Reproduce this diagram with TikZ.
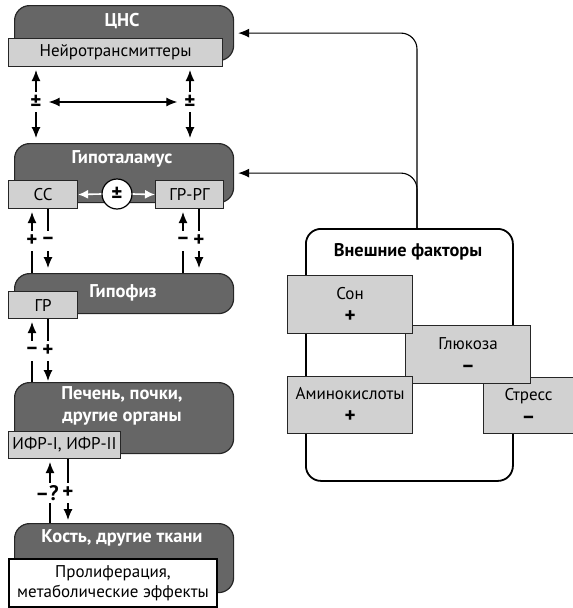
\documentclass[tikz,border=0pt]{standalone}
\usepackage{fontspec}
\setmainfont{PT Sans}
\usetikzlibrary{arrows.meta}
\newcommand{\bigsgn}[1]{{\fontsize{21}{22}\selectfont\bfseries #1}}
\begin{document}
\begin{tikzpicture}[x=1pt,y=-1pt,
  font=\fontsize{17}{20}\selectfont,
  darkbox/.style={draw=black!85, line width=1.2pt, fill=black!60, rounded corners=15pt, anchor=north west, inner sep=0pt},
  lightbox/.style={draw=black!85, line width=1.1pt, fill=black!18, anchor=north west, inner sep=0pt, align=center},
  factor/.style={lightbox, font=\fontsize{17}{23}\selectfont},
  title/.style={text=white, font=\fontsize{18.5}{22}\selectfont\bfseries, align=center, inner sep=0pt},
  conn/.style={line width=1.1pt, -{Latex[length=11pt,width=9pt]}},
  dconn/.style={line width=1.1pt, {Latex[length=11pt,width=9pt]}-{Latex[length=11pt,width=9pt]}},
  wconn/.style={white, line width=1.6pt, -{Latex[length=10pt,width=9pt]}},
  sign/.style={fill=white, inner sep=1pt, minimum height=20pt, font=\fontsize{21}{22}\selectfont\bfseries},
  bigsign/.style={font=\fontsize{21}{22}\selectfont\bfseries},
]
\useasboundingbox (0,0) rectangle (573,608);

% column coordinates
\coordinate (c32) at (32,0);
\coordinate (c36) at (36,0);
\coordinate (c48) at (48,0);
\coordinate (c50) at (50,0);
\coordinate (c68) at (68,0);
\coordinate (c183) at (183,0);
\coordinate (c190) at (190,0);
\coordinate (c199) at (199,0);

% ---- CNS ----
\node[darkbox, minimum width=219pt, minimum height=55pt] (cns) at (14,5) {};
\node[title] (cnsT) at (122,21) {ЦНС};
\node[lightbox, minimum width=214pt, minimum height=28pt] (nt) at (8,38) {Нейротрансмиттеры};

% ---- Hypothalamus ----
\node[darkbox, minimum width=219pt, minimum height=59pt] (hyp) at (14,143) {};
\node[title] (hypT) at (122,159) {Гипоталамус};
\node[lightbox, minimum width=69pt, minimum height=28pt] (cc) at (8,180) {СС};
\node[lightbox, minimum width=68pt, minimum height=28pt] (grrg) at (155,180) {ГР-РГ};
\node[circle, draw=black, fill=white, line width=1.2pt, minimum size=30pt, inner sep=0pt, bigsign] (pmc) at (117,194) {±};
\draw[wconn] (pmc.west) -- (cc.east);
\draw[wconn] (pmc.east) -- (grrg.west);

% ---- Pituitary ----
\node[darkbox, minimum width=219pt, minimum height=40pt] (hpf) at (14,273) {};
\node[title] (hpfT) at (123,293) {Гипофиз};
\node[lightbox, minimum width=69pt, minimum height=27pt] (gr) at (8,291) {ГР};

% ---- Liver ----
\node[darkbox, minimum width=219pt, minimum height=71pt] (liv) at (14,382) {};
\node[title] (livT) at (122,406) {Печень, почки,\\другие органы};
\node[lightbox, minimum width=112pt, minimum height=27pt] (ifr) at (8,431) {ИФР-I, ИФР-II};

% ---- Bone ----
\node[darkbox, minimum width=219pt, minimum height=69pt] (bone) at (14,523) {};
\node[title] (boneT) at (122,538) {Кость, другие ткани};
\node[draw=black, line width=2pt, fill=white, anchor=north west, inner sep=0pt, minimum width=208pt, minimum height=48pt, align=center, font=\fontsize{17}{20}\selectfont] (prol) at (8,558) {Пролиферация,\\метаболические эффекты};

% ---- connectors: CNS <-> hypothalamus ----
\draw[dconn, shorten <=3pt, shorten >=5pt] (c36 |- nt.south) -- (c36 |- hyp.north);
\draw[dconn, shorten <=3pt, shorten >=5pt] (c190 |- nt.south) -- (c190 |- hyp.north);
\node[sign] (pmL) at (36,102) {±};
\node[sign] (pmR) at (190,102) {±};
\draw[dconn, shorten <=6pt, shorten >=6pt] (pmL.east) -- (pmR.west);

% ---- hypothalamus <-> pituitary ----
\draw[conn, shorten >=3pt] (c32 |- hpf.north) -- (c32 |- cc.south);
\draw[conn, shorten >=5pt] (c48 |- cc.south) -- (c48 |- hpf.north);
\draw[conn, shorten >=3pt] (c183 |- hpf.north) -- (c183 |- grrg.south);
\draw[conn, shorten >=5pt] (c199 |- grrg.south) -- (c199 |- hpf.north);
\node[sign] (s1) at (32,241) {+};
\node[sign] (s2) at (48,241) {–};
\node[sign] (s3) at (183,241) {–};
\node[sign] (s4) at (199,241) {+};

% ---- pituitary <-> liver ----
\draw[conn, shorten >=3pt] (c32 |- liv.north) -- (c32 |- gr.south);
\draw[conn, shorten >=1pt] (c48 |- gr.south) -- (c48 |- liv.north);
\node[sign] (s5) at (32,351) {–};
\node[sign] (s6) at (48,351) {+};

% ---- liver <-> bone ----
\draw[conn, shorten >=3pt] (c50 |- bone.north) -- (c50 |- ifr.south);
\draw[conn, shorten >=3pt] (c68 |- ifr.south) -- (c68 |- bone.north);
\node[sign] (s7) at (47,493) {–?};
\node[sign] (s8) at (68,493) {+};

% ---- external factors ----
\node[draw=black, line width=1.8pt, rounded corners=15pt, anchor=north west, minimum width=207pt, minimum height=252pt, inner sep=0pt] (ext) at (305,228) {};
\node[font=\fontsize{18.3}{20}\selectfont\bfseries, inner sep=0pt] (extT) at (408,252) {Внешние факторы};
\node[factor, minimum width=90pt, minimum height=56pt] (stress) at (483,377) {Стресс\\\bigsgn{–}};
\node[factor, minimum width=125pt, minimum height=58pt] (gluc) at (405,325) {Глюкоза\\\bigsgn{–}};
\node[factor, minimum width=125pt, minimum height=58pt] (sleep) at (287,275) {Сон\\\bigsgn{+}};
\node[factor, minimum width=125pt, minimum height=57pt] (amino) at (287,376) {Аминокислоты\\\bigsgn{+}};

\coordinate (src) at (417,228);
\draw[conn, rounded corners=16pt, shorten >=4pt] (src) |- (cns.east);
\draw[conn, rounded corners=16pt, shorten >=4pt] (src) |- (hyp.east);
\end{tikzpicture}
\end{document}
